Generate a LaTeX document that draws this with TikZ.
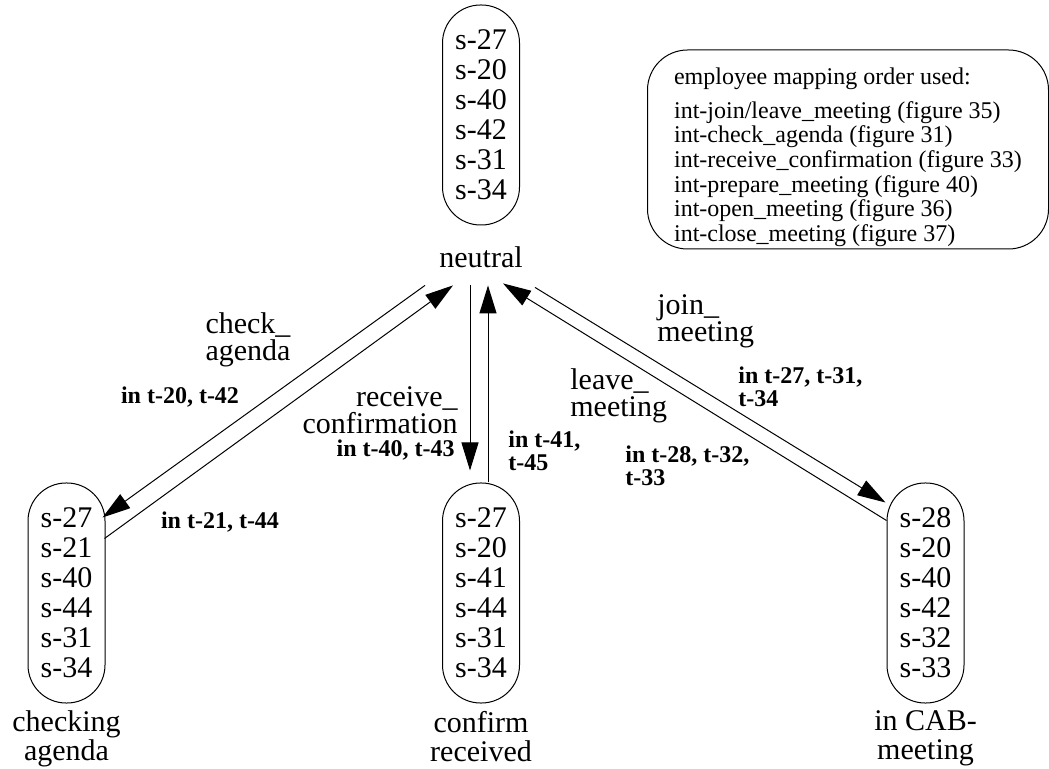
\documentclass[tikz,border=0pt]{standalone}
\usepackage{fontspec}
\setmainfont{Liberation Serif}
\usetikzlibrary{arrows.meta, positioning, calc}
\tikzset{
  state/.style={
    rectangle, rounded corners=19pt,
    minimum width=38.5pt, minimum height=110pt, inner sep=0pt,
    align=center, draw, line width=0.5pt,
    font=\fontsize{15}{15}\selectfont,
  },
  statename/.style={inner sep=0pt, align=center, font=\fontsize{15}{14.5}\selectfont},
  evname/.style={inner sep=0pt, font=\fontsize{15}{13.5}\selectfont},
  trans/.style={inner sep=0pt, font=\fontsize{12}{11.5}\selectfont\bfseries},
  legendbox/.style={
    rectangle, rounded corners=20pt,
    minimum width=200.5pt, minimum height=99.5pt, inner ysep=0pt,
    align=left, draw, line width=0.5pt,
    font=\fontsize{12}{12.3}\selectfont,
  },
  arrow/.style={-{Triangle[length=14pt, width=8.5pt]}, line width=0.5pt},
}
\begin{document}
\begin{tikzpicture}[x=0.5pt, y=-0.5pt]
  \useasboundingbox (0,0) rectangle (1049,769);

  \node[state] (neutral) at (481,115) {s-27\\s-20\\s-40\\s-42\\s-31\\s-34};
  \node[state, below=128.5pt of neutral] (confirm) {s-27\\s-20\\s-41\\s-44\\s-31\\s-34};
  \node[state, left=168.25pt of confirm] (checking) {s-27\\s-21\\s-40\\s-44\\s-31\\s-34};
  \node[state, right=183.25pt of confirm] (cab) {s-28\\s-20\\s-40\\s-42\\s-32\\s-33};

  \node[statename, below=10.5pt of neutral] (neutrallbl) {neutral};
  \node[statename, below=3.5pt of checking] (checkinglbl) {checking\\agenda};
  \node[statename, below=3.5pt of confirm] (confirmlbl) {confirm\\received};
  \node[statename, below=3.5pt of cab] (cablbl) {in CAB-\\meeting};

  \node[legendbox] (legend) at (848,149.5) {\rule{0pt}{16pt}employee mapping order used:\\[4.5pt]
    int-join/leave\_meeting (figure 35)\\
    int-check\_agenda (figure 31)\\
    int-receive\_confirmation (figure 33)\\
    int-prepare\_meeting (figure 40)\\
    int-open\_meeting (figure 36)\\
    int-close\_meeting (figure 37)};

  % event names and transitions
  \node[evname, align=center] (checkev) at (248,340) {check\_\\agenda};
  \node[trans] (checkin) at (180,397) {in t-20, t-42};
  \node[trans] (checkout) at (220,522) {in t-21, t-44};
  \node[evname, align=right, anchor=east] (receiveev) at (458,410) {receive\_\\confirmation};
  \node[trans, anchor=east] (receivein) at (455,450) {in t-40, t-43};
  \node[trans, align=left, anchor=west] (receiveout) at (508,451) {in t-41,\\t-45};
  \node[evname, align=left, anchor=west] (leaveev) at (570,396) {leave\_\\meeting};
  \node[trans, align=left, anchor=west] (leavein) at (625,466) {in t-28, t-32,\\t-33};
  \node[evname, align=left, anchor=west] (joinev) at (657,321) {join\_\\meeting};
  \node[trans, align=left, anchor=west] (joinin) at (738,387) {in t-27, t-31,\\t-34};

  \draw[arrow] ($(neutrallbl.south)+(-56,17)$) -- ($(checking.north east)+(-3,35)$);
  \draw[arrow] ($(checking.north east)+(-1,56)$) -- ($(neutrallbl.south)+(-28,17)$);
  \draw[arrow] ($(neutrallbl.south)+(-11,17)$) -- ($(confirm.north)+(-11,-12)$);
  \draw[arrow] ($(confirm.north)+(7,0)$) -- ($(neutrallbl.south)+(7,17)$);
  \draw[arrow] ($(neutrallbl.south)+(54,19)$) -- ($(cab.north west)+(-1,20)$);
  \draw[arrow] ($(cab.north west)+(0,38)$) -- ($(neutrallbl.south)+(22,15)$);

\end{tikzpicture}
\end{document}
